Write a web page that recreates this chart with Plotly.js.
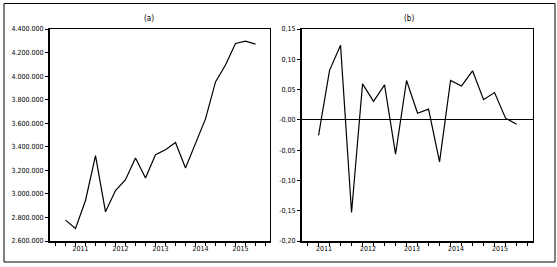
<!DOCTYPE html>
<html>
<head>
<meta charset="utf-8">
<script src="https://cdn.plot.ly/plotly-3.0.1.min.js"></script>
<style>html,body{margin:0;padding:0;background:#fff;}#chart{width:557px;height:267px;}</style>
</head>
<body>
<div id="chart"></div>
<script>
// Quarterly periods
const quarters = ["2011Q1","2011Q2","2011Q3","2011Q4","2012Q1","2012Q2","2012Q3","2012Q4",
                  "2013Q1","2013Q2","2013Q3","2013Q4","2014Q1","2014Q2","2014Q3","2014Q4",
                  "2015Q1","2015Q2","2015Q3","2015Q4"];
// (a) levels
const levels = [2777000, 2707000, 2944000, 3325000, 2848000, 3028000, 3121000, 3304000,
                3135000, 3332000, 3375000, 3437000, 3220000, 3430000, 3637000, 3951000,
                4094000, 4277000, 4297000, 4271000];
// (b) changes, from 2011Q2
const changes = [-0.0256, 0.0817, 0.123, -0.153, 0.0594, 0.0306, 0.0578, -0.0567,
                 0.065, 0.011, 0.0178, -0.0694, 0.065, 0.056, 0.081, 0.0333,
                 0.045, 0.0028, -0.0072];
// Axis labels
const yearLabels = ["2011","2012","2013","2014","2015"];
const leftTickVals = [2600000,2800000,3000000,3200000,3400000,3600000,3800000,4000000,4200000,4400000];
const leftTickText = ["2.600.000","2.800.000","3.000.000","3.200.000","3.400.000","3.600.000","3.800.000","4.000.000","4.200.000","4.400.000"];
const rightTickVals = [-0.20,-0.15,-0.10,-0.05,0,0.05,0.10,0.15];
const rightTickText = ["-0,20","-0,15","-0,10","-0,05","-0,00","0,05","0,10","0,15"];

const idx = quarters.map((q, i) => i);
const yearPos = yearLabels.map((y, i) => i * 4 + 1.5);

const W = 557, H = 267;
const FONT = "Liberation Sans Narrow, Arial Narrow, DejaVu Sans Condensed, sans-serif";
const px = v => v / W;
const py = v => (H - v) / H;

function xAxis(domain, range, anchor) {
  return {
    domain: domain, range: range, anchor: anchor,
    tickmode: "array", tickvals: yearPos, ticktext: yearLabels, ticks: "",
    showline: true, mirror: true, linecolor: "#000", linewidth: 1.5,
    showgrid: false, zeroline: false, fixedrange: true,
    tickfont: {family: FONT, size: 7, color: "#000"},
    minor: {tickmode: "linear", tick0: 0, dtick: 1, ticks: "outside", ticklen: 3,
            tickwidth: 1, tickcolor: "#000", showgrid: false}
  };
}
function yAxis(range, vals, text, anchor, zl) {
  return {
    domain: [py(241), py(29)], range: range, anchor: anchor,
    tickmode: "array", tickvals: vals, ticktext: text,
    ticks: "outside", ticklen: 3, tickwidth: 1, tickcolor: "#000",
    showline: true, mirror: true, linecolor: "#000", linewidth: 1.5,
    showgrid: false, zeroline: zl, zerolinecolor: "#000", zerolinewidth: 1,
    fixedrange: true,
    tickfont: {family: FONT, size: 7, color: "#000"}
  };
}

const data = [
  {x: idx, y: levels, type: "scatter", mode: "lines", xaxis: "x", yaxis: "y",
   line: {color: "#000", width: 1.2}, hoverinfo: "skip"},
  {x: idx.slice(1), y: changes, type: "scatter", mode: "lines", xaxis: "x2", yaxis: "y2",
   line: {color: "#000", width: 1.2}, hoverinfo: "skip"}
];

const layout = {
  width: W, height: H,
  margin: {l: 0, r: 0, t: 0, b: 0},
  paper_bgcolor: "#fff", plot_bgcolor: "#fff",
  showlegend: false,
  font: {family: FONT, color: "#000"},
  xaxis: xAxis([px(49.5), px(269.5)], [-1.6, 20.4], "y"),
  yaxis: yAxis([2600000, 4400000], leftTickVals, leftTickText, "x", false),
  xaxis2: xAxis([px(301.5), px(532.5)], [-0.55, 20.45], "y2"),
  yaxis2: yAxis([-0.20, 0.15], rightTickVals, rightTickText, "x2", true),
  annotations: [
    {text: "(a)", xref: "paper", yref: "paper", x: px(149), y: py(19), showarrow: false,
     xanchor: "center", yanchor: "middle", font: {family: FONT, size: 8, color: "#000"}},
    {text: "(b)", xref: "paper", yref: "paper", x: px(409), y: py(19), showarrow: false,
     xanchor: "center", yanchor: "middle", font: {family: FONT, size: 8, color: "#000"}}
  ],
  shapes: [
    {type: "rect", xref: "paper", yref: "paper", x0: px(4), x1: px(555), y0: py(262), y1: py(3.5),
     line: {color: "#000", width: 1}, fillcolor: "rgba(0,0,0,0)"}
  ]
};

Plotly.newPlot("chart", data, layout, {staticPlot: true, displayModeBar: false});
</script>
</body>
</html>
